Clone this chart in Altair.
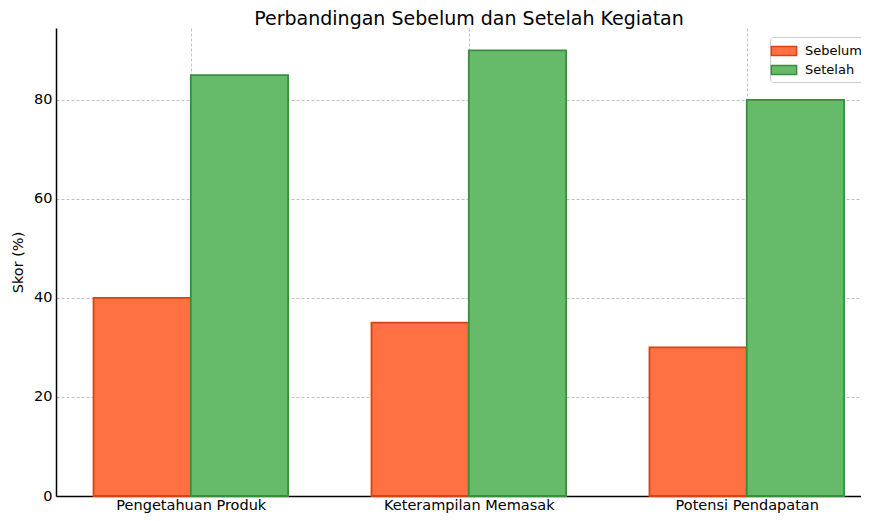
import altair as alt
import pandas as pd

# ---- data ----
categories = ["Pengetahuan Produk", "Keterampilan Memasak", "Potensi Pendapatan"]
series_names = ["Sebelum", "Setelah"]
sebelum = [40, 35, 30]
setelah = [85, 90, 80]
y_ticks = [0, 20, 40, 60, 80]
fill_colors = ["#FF7043", "#66BB6A"]
edge_colors = ["#D84315", "#388E3C"]

bar_w = 0.35
rows = []
for i, cat in enumerate(categories):
    rows.append({"Kategori": cat, "Kondisi": series_names[0], "x0": i - bar_w, "x1": i, "Skor": sebelum[i]})
    rows.append({"Kategori": cat, "Kondisi": series_names[1], "x0": i, "x1": i + bar_w, "Skor": setelah[i]})
df = pd.DataFrame(rows)

label_expr = "[" + ",".join("'" + c + "'" for c in categories) + "][datum.value]"
FONT = "DejaVu Sans"

legend = alt.Legend(
    title=None,
    orient="none",
    legendX=714,
    legendY=9,
    symbolType="M-1.4,-0.5L1.4,-0.5L1.4,0.5L-1.4,0.5Z",
    symbolSize=324,
    symbolStrokeWidth=1.5,
    labelFont=FONT,
    labelFontSize=13,
    labelColor="#000000",
    labelOffset=11,
    rowPadding=1,
    padding=4,
    fillColor="#ffffff",
    strokeColor="#cccccc",
    cornerRadius=3,
)

chart = alt.Chart(df).mark_bar(strokeWidth=1.8).encode(
    x=alt.X(
        "x0:Q",
        scale=alt.Scale(domain=[-0.485, 2.411], nice=False, zero=False),
        axis=alt.Axis(values=[0, 1, 2], labelExpr=label_expr, title=None, grid=True,
                      labelPadding=2),
    ),
    x2="x1:Q",
    y=alt.Y(
        "Skor:Q",
        scale=alt.Scale(domain=[0, 94.5], nice=False),
        axis=alt.Axis(values=y_ticks, title="Skor (%)", labelPadding=4, titlePadding=8),
    ),
    y2=alt.datum(0),
    fill=alt.Fill("Kondisi:N", scale=alt.Scale(domain=series_names, range=fill_colors), legend=legend),
    stroke=alt.Stroke("Kondisi:N", scale=alt.Scale(domain=series_names, range=edge_colors), legend=legend),
).properties(
    width=805,
    height=468,
    title=alt.TitleParams(
        "Perbandingan Sebelum dan Setelah Kegiatan",
        font=FONT, fontSize=19, fontWeight="normal", color="#000000",
        anchor="middle", dx=10.5, offset=-1, frame="group",
    ),
    autosize=alt.AutoSizeParams(type="none"),
    padding={"left": 48, "top": 20, "right": 0, "bottom": 17},
    background="#ffffff",
).configure_view(
    stroke=None
).configure_axis(
    domainColor="#000000",
    domainWidth=1.5,
    tickSize=0,
    labelFont=FONT,
    labelFontSize=14.5,
    labelColor="#000000",
    titleFont=FONT,
    titleFontSize=14.5,
    titleFontWeight="normal",
    titleColor="#000000",
    gridColor="#b0b0b0",
    gridDash=[3, 2],
    gridWidth=0.8,
)

chart.save("out.html", embed_options={"renderer": "svg", "actions": False})
